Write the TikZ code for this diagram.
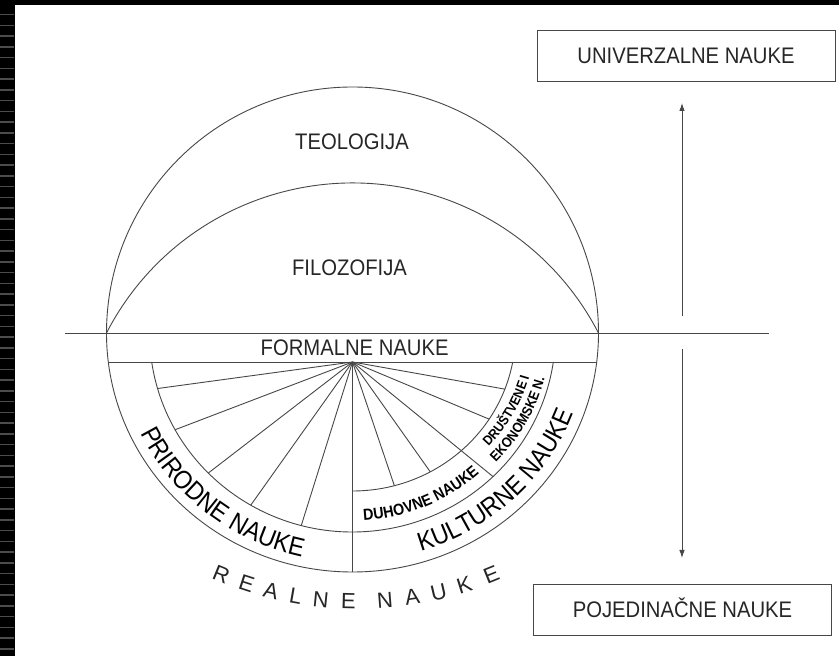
\documentclass[tikz,border=0pt]{standalone}
\usepackage{fontspec}
\newfontfamily\nar[FakeStretch=0.9]{Liberation Sans}
\newfontfamily\reg{Liberation Sans}
\usetikzlibrary{arrows.meta,decorations.text,calc}
\begin{document}
\begin{tikzpicture}[x=1pt,y=1pt,
  ln/.style={draw=black!72, line width=0.9pt},
  lbl/.style={font=\nar\fontsize{22.5}{27}\selectfont, text=black!85, inner sep=0pt, text height=16pt, text depth=0pt},
  box/.style={ln, minimum width=298pt, minimum height=51pt},
  arr/.style={ln, -{Latex[length=8pt,width=5.5pt]}},
  rl/.style={font=\reg\fontsize{22}{26}\selectfont, text=black!85, inner sep=0pt, text height=15.7pt, text depth=0pt},
]
\useasboundingbox (0,0) rectangle (839,656);
\fill[white] (0,0) rectangle (839,656);
% film border
\fill[black] (0,0) rectangle (15,656);
\fill[black] (0,651) rectangle (839,656);
\foreach \i in {0,...,59} \fill[black!70] (0,{642-\i*10.75}) rectangle (14,{640.6-\i*10.75});

\coordinate (O) at (352.5,323);
\coordinate (C) at (352.5,294);
\coordinate (hl) at (65,323);
\coordinate (hr) at (769,323);
\draw[ln] (hl) -- (hr);

% outer circle (upper) and lower half-ellipse
\path (O) ++(180:246) coordinate (L0);
\draw[ln] (L0) arc[start angle=180,end angle=0,radius=246];
\draw[ln] (L0) arc[start angle=180,end angle=360,x radius=246,y radius=239];
% filozofija arc
\draw[ln] (L0) arc[start angle=152.75,end angle=27.25,radius=276.7];

% band bottom
\path (O) ++(186.97:246 and 239) coordinate (bl);
\path (O) ++(353.03:246 and 239) coordinate (br);
\draw[ln] (bl) -- (br);

% middle arc
\path (O) ++(188.38:203 and 199) coordinate (ml);
\draw[ln] (ml) arc[start angle=188.38,end angle=351.62,x radius=203,y radius=199];
% inner arc (right)
\path (O) ++(270:163 and 158) coordinate (il);
\draw[ln] (il) arc[start angle=270,end angle=349.42,x radius=163,y radius=158];
% vertical line
\path (O) ++(270:246 and 239) coordinate (ob);
\draw[ln] (C) -- (ob);

% rays
\begin{scope}
\clip (O) ellipse [x radius=203, y radius=199];
\foreach \a in {187.75,200.9,217.6,234.6,252.6,320.8} \draw[ln] (C) -- ++(\a:260);
\end{scope}
\begin{scope}
\clip (O) ellipse [x radius=163, y radius=158];
\foreach \a in {349.9,337.3,305.3,288.7} \draw[ln] (C) -- ++(\a:260);
\end{scope}

% labels
\node[lbl] (teo) at (352,514.5) {TEOLOGIJA};
\node[lbl] (filo) at (349.5,388) {FILOZOFIJA};
\node[lbl] (form) at (354.6,308.5) {FORMALNE NAUKE};

% boxes
\node[box,lbl] (univ) at (686,600.5) {UNIVERZALNE NAUKE};
\node[box,lbl] (poj) at (682.5,46.5) {POJEDINAČNE NAUKE};

% arrows
\coordinate (ua) at (682,340);
\coordinate (ub) at (682,553);
\draw[arr] (ua) -- (ub);
\coordinate (da) at (682,307);
\coordinate (db) at (682,98);
\draw[arr] (da) -- (db);

% curved texts
\path (O) ++(196.65:236 and 229) coordinate (tp);
\path[decorate, decoration={text along path, text align=center,
  text={|\nar\fontsize{26}{30}\selectfont|PRIRODNE NAUKE}}]
  (tp) arc[start angle=196.65,end angle=266.65,x radius=236,y radius=229];

\path (O) ++(278.25:236 and 228) coordinate (tk);
\path[decorate, decoration={text along path, text align=center,
  text={|\nar\fontsize{26}{30}\selectfont|KULTURNE NAUKE}}]
  (tk) arc[start angle=278.25,end angle=348.25,x radius=236,y radius=228];

\path (O) ++(262.55:191 and 188) coordinate (td);
\path[decorate, decoration={text along path, text align=center,
  text={|\nar\bfseries\fontsize{16}{19}\selectfont|DUHOVNE NAUKE}}]
  (td) arc[start angle=262.55,end angle=322.55,x radius=191,y radius=188];

\path (O) ++(311.65:183 and 170) coordinate (ts);
\path[decorate, decoration={text along path, text align=center,
  text={|\nar\bfseries\fontsize{13.5}{16}\selectfont|DRUŠTVENE I}}]
  (ts) arc[start angle=311.65,end angle=351.65,x radius=183,y radius=170];

\path (O) ++(311.3:198 and 188) coordinate (te);
\path[decorate, decoration={text along path, text align=center,
  text={|\nar\bfseries\fontsize{14}{16}\selectfont|EKONOMSKE N.}}]
  (te) arc[start angle=311.3,end angle=351.3,x radius=198,y radius=188];

% REALNE NAUKE
\coordinate (RC) at (357,412);
\foreach \a/\l [count=\i] in {247.7/R,252/E,256.1/A,260.1/L,264.2/N,268.6/E,274.5/N,278.9/A,283.2/U,287.5/K,292.1/E}{
  \pgfmathsetmacro\rr{\a+90}
  \node[rl, rotate=\rr] (rl\i) at ($(RC)+(\a:357)$) {\l};
}
\end{tikzpicture}
\end{document}
